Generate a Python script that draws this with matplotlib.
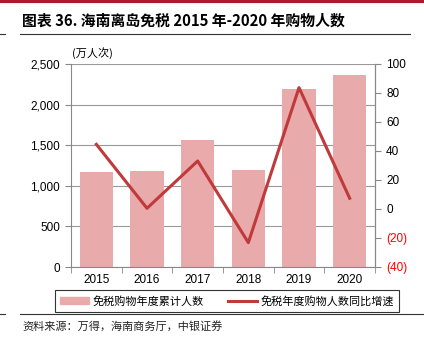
import matplotlib
matplotlib.use("Agg")
import matplotlib.pyplot as plt
from matplotlib.lines import Line2D
from matplotlib.ticker import FuncFormatter

plt.rcParams['font.family'] = ['Liberation Sans', 'Noto Sans CJK SC', 'DejaVu Sans']

years = ['2015', '2016', '2017', '2018', '2019', '2020']
shoppers = [1174, 1178, 1564, 1198, 2196, 2361]
growth = [44.6, 0.5, 33.1, -23.2, 83.7, 7.4]
left_ticks = [0, 500, 1000, 1500, 2000, 2500]
right_ticks = [-40, -20, 0, 20, 40, 60, 80, 100]

bar_color = '#E8AAAA'
line_color = '#C0393B'
cjk = ['Noto Sans CJK SC', 'DejaVu Sans']

fig = plt.figure(figsize=(4.24, 3.51), dpi=100)
ax = fig.add_axes([71/424, 1-267/351, (375-71)/424, (267-64)/351])
x = list(range(len(years)))
ax.bar(x, shoppers, width=0.66, color=bar_color, zorder=2)
ax.set_ylim(0, 2500)
ax.set_xlim(-0.5, 5.5)
ax.set_yticks(left_ticks)
ax.yaxis.set_major_formatter(FuncFormatter(lambda v, p: f'{int(v):,}'))
ax.set_xticks(x)
ax.set_xticklabels(years)
ax.set_xticks([i - 0.5 for i in range(len(years) + 1)], minor=True)
ax.tick_params(axis='x', which='major', length=0, labelsize=8.5, pad=5)
ax.tick_params(axis='x', which='minor', length=4, color='#888888')
ax.tick_params(axis='y', length=4, color='#888888', labelsize=8.5, pad=4)
ax.grid(axis='y', color='#999999', linewidth=0.8, zorder=0)
for s in ['top']:
    ax.spines[s].set_visible(False)
for s in ['left', 'bottom', 'right']:
    ax.spines[s].set_color('#888888')
    ax.spines[s].set_linewidth(0.8)

ax2 = ax.twinx()
ax2.plot(x, growth, color=line_color, linewidth=2.2, zorder=3)
ax2.set_ylim(-40, 100)
ax2.set_yticks(right_ticks)
ax2.yaxis.set_major_formatter(FuncFormatter(lambda v, p: f'({int(-v)})' if v < 0 else f'{int(v)}'))
ax2.tick_params(axis='y', length=4, color='#888888', labelsize=8.5, pad=4)
for lab, v in zip(ax2.get_yticklabels(), right_ticks):
    if v < 0:
        lab.set_color('red')
for s in ['top', 'left', 'bottom']:
    ax2.spines[s].set_visible(False)
ax2.spines['right'].set_color('#888888')
ax2.spines['right'].set_linewidth(0.8)

# unit label
fig.text(72/424, 1-53/351, '(万人次)', family=cjk, fontsize=8, va='center', ha='left')

# title and decorations
fig.add_artist(Line2D([0, 1], [1-1/351, 1-1/351], color='#B0182A', linewidth=3))
fig.text(22/424, 1-21/351, '图表 36. 海南离岛免税 2015 年-2020 年购物人数', family=cjk,
         fontsize=10.7, fontweight='bold', va='center', ha='left')
fig.add_artist(Line2D([20/424, 410/424], [1-34/351, 1-34/351], color='#333333', linewidth=0.8))
fig.add_artist(Line2D([0, 5/424], [1-34/351, 1-34/351], color='#333333', linewidth=0.8))
fig.add_artist(Line2D([20/424, 1], [1-314/351, 1-314/351], color='#333333', linewidth=0.8))
fig.add_artist(Line2D([0, 5/424], [1-314/351, 1-314/351], color='#333333', linewidth=0.8))

# legend
handles = [plt.Rectangle((0, 0), 1, 1, color=bar_color),
           Line2D([0], [0], color=line_color, linewidth=2.2)]
leg = fig.legend(handles, ['免税购物年度累计人数', '免税年度购物人数同比增速'],
                 loc='center', bbox_to_anchor=(227/424, 1-301/351), ncol=2,
                 prop={'family': cjk, 'size': 8}, frameon=True, fancybox=False,
                 edgecolor='black', handlelength=2.6, handleheight=0.5,
                 columnspacing=2.2, handletextpad=0.3, borderpad=0.5)
leg.get_frame().set_linewidth(0.8)

fig.text(22/424, 1-326/351, '资料来源：万得，海南商务厅，中银证券', family=cjk,
         fontsize=8, style='italic', va='center', ha='left', color='#222222')

fig.savefig('out.png', dpi=100)
